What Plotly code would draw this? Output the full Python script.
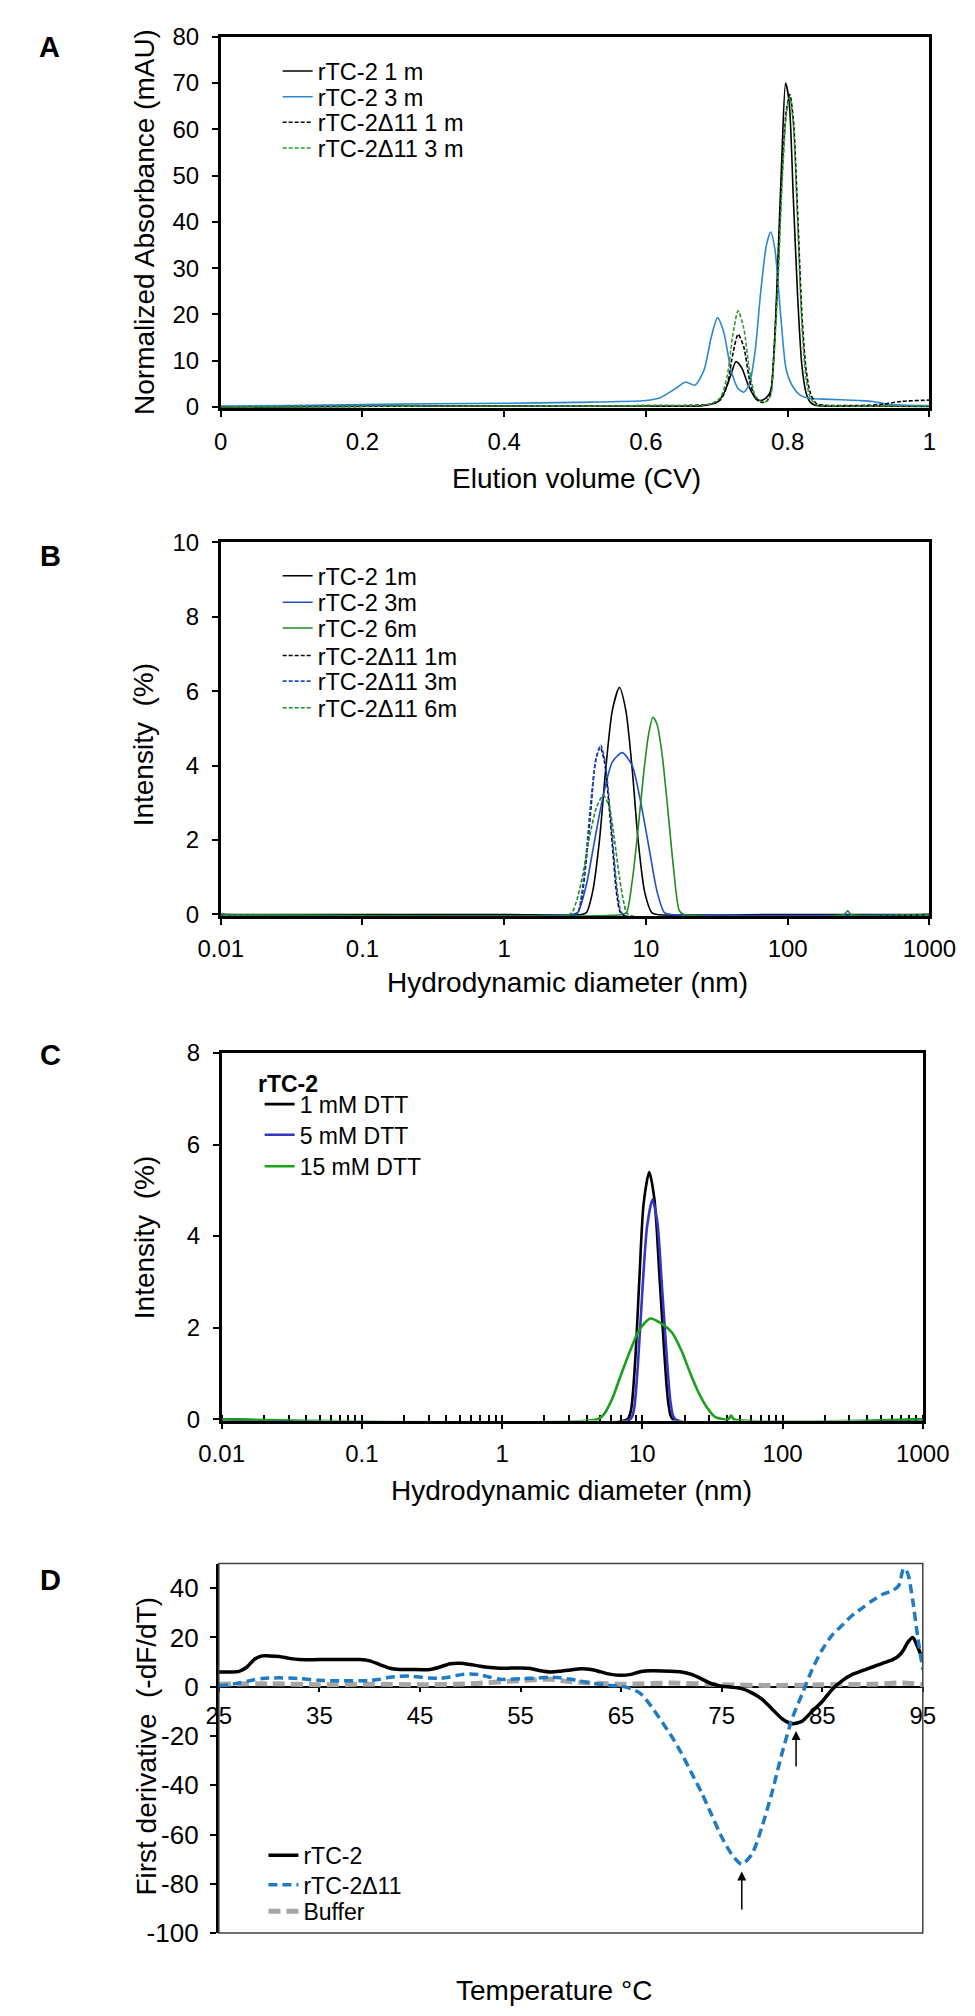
import plotly.graph_objects as go

W, H = 975, 2016
FONT = "Liberation Sans, Arial, Helvetica, sans-serif"

# ---------------- A: elution profiles (CV vs mAU) ----------------
a_x_wt1 = [0, 0.3, 0.6, 0.68, 0.70, 0.71, 0.72, 0.727, 0.735, 0.745, 0.755, 0.762, 0.770,
           0.776, 0.782, 0.787, 0.792, 0.797, 0.802, 0.808, 0.814, 0.820, 0.826, 0.832,
           0.84, 0.9, 1.0]
a_y_wt1 = [0, 0.2, 0.2, 0.3, 1.0, 3.0, 7.0, 9.8, 8.5, 4.5, 1.8, 1.4, 2.0,
           3.5, 16, 35, 55, 70, 66, 45, 24, 9, 3, 1, 0.3, 0.2, 0.1]

a_x_wt3 = [0, 0.1, 0.2, 0.3, 0.4, 0.5, 0.6, 0.62, 0.64, 0.656, 0.669, 0.682, 0.692, 0.701,
           0.71, 0.72, 0.73, 0.738, 0.746, 0.754, 0.762, 0.770, 0.776, 0.782, 0.790, 0.798,
           0.808, 0.818, 0.83, 0.85, 0.9, 0.92, 0.94, 1.0]
a_y_wt3 = [0.2, 0.3, 0.5, 0.7, 0.8, 1.0, 1.4, 2.0, 3.8, 5.4, 4.7, 8, 15, 19.3,
           16, 8, 4, 3.2, 5, 12, 25, 35, 37.8, 34, 20, 8,
           4.2, 2.5, 1.9, 1.7, 1.4, 1.2, 0.6, 0.3]

a_x_d1 = [0, 0.3, 0.6, 0.69, 0.705, 0.715, 0.722, 0.730, 0.738, 0.746, 0.754, 0.762, 0.770,
          0.776, 0.780, 0.786, 0.792, 0.798, 0.803, 0.808, 0.814, 0.820, 0.826, 0.832, 0.840,
          0.85, 0.9, 0.93, 0.96, 1.0]
a_y_d1 = [0, 0.2, 0.3, 0.6, 1.5, 5, 11, 15.7, 13, 6, 2, 1.0, 1.2,
          3, 10, 28, 50, 64, 67.5, 62, 42, 20, 8, 3, 0.8,
          0.4, 0.3, 0.5, 1.2, 1.5]

a_x_d3 = a_x_d1
a_y_d3 = [0, 0.2, 0.3, 0.6, 2, 7, 15, 20.8, 17, 8, 2.5, 1.2, 1.2,
          2.5, 9, 26, 48, 63, 67, 61, 40, 18, 6, 2, 0.5,
          0.3, 0.2, 0.2, 0.2, 0.2]

# ---------------- B: DLS, storage time ----------------
b_x_wt1 = [0.01, 1, 3.5, 3.8, 4.2, 4.7, 5.2, 5.8, 6.5, 7.2, 8.0, 8.8, 9.8, 11, 12, 100, 1000]
b_y_wt1 = [0, 0, 0, 0.05, 0.6, 2.0, 3.9, 5.5, 6.1, 5.5, 3.9, 2.0, 0.6, 0.05, 0, 0, 0]

b_x_wt3 = [0.01, 3.0, 3.3, 3.8, 4.3, 5.0, 5.8, 6.8, 8.0, 9.2, 10.5, 12, 13.5, 15, 1000]
b_y_wt3 = [0, 0, 0.05, 0.8, 1.9, 3.2, 4.1, 4.35, 4.0, 3.0, 1.8, 0.6, 0.05, 0, 0]

b_x_wt6 = [0.01, 6.8, 7.3, 8.0, 8.8, 9.7, 10.5, 11.2, 12.0, 13.0, 14.2, 15.6, 17.2, 18.5,
           250, 265, 280, 1000]
b_y_wt6 = [0, 0, 0.05, 0.9, 2.3, 3.9, 4.9, 5.3, 5.1, 4.3, 2.9, 1.3, 0.1, 0,
           0, 0.1, 0, 0]

b_x_d1 = [0.01, 3.2, 3.5, 3.8, 4.1, 4.4, 4.75, 5.1, 5.5, 5.9, 6.3, 6.8, 1000]
b_y_d1 = [0, 0, 0.4, 1.5, 2.9, 4.1, 4.5, 4.1, 2.9, 1.5, 0.4, 0, 0]

b_x_d3 = [0.01, 3.2, 3.5, 3.8, 4.1, 4.45, 4.8, 5.15, 5.55, 6.0, 6.4, 6.9, 1000]
b_y_d3 = [0, 0, 0.5, 1.7, 3.1, 4.2, 4.55, 4.1, 2.9, 1.4, 0.4, 0, 0]

b_x_d6 = [0.01, 2.9, 3.2, 3.6, 4.0, 4.5, 5.0, 5.5, 6.0, 6.5, 7.0, 7.5, 1000]
b_y_d6 = [0, 0, 0.3, 1.1, 2.1, 2.9, 3.2, 2.9, 2.0, 1.0, 0.3, 0, 0]

# ---------------- C: DLS, DTT ----------------
c_x_1 = [0.01, 7.8, 8.3, 8.9, 9.5, 10.2, 11.2, 12.2, 13.2, 14.3, 15.4, 16.5, 1000]
c_y_1 = [0, 0, 0.2, 1.3, 3.0, 4.7, 5.4, 4.8, 3.2, 1.5, 0.3, 0, 0]

c_x_5 = [0.01, 8.2, 8.7, 9.3, 10.0, 10.8, 11.8, 12.8, 13.8, 14.9, 16.0, 17.2, 1000]
c_y_5 = [0, 0, 0.2, 1.2, 2.8, 4.2, 4.8, 4.3, 2.9, 1.4, 0.3, 0, 0]

c_x_15 = [0.01, 4.8, 5.3, 6.1, 7.0, 8.2, 9.5, 11.4, 13.5, 16.2, 19, 21.8, 25, 29, 33, 38,
          41, 43, 45, 1000]
c_y_15 = [0, 0, 0.1, 0.45, 0.95, 1.5, 1.95, 2.2, 2.1, 1.9, 1.5, 1.03, 0.6, 0.25, 0.05, 0,
          0, 0.08, 0, 0]

# ---------------- D: thermal shift, first derivative ----------------
d_temp = [25, 26, 27, 27.8, 28.5, 29.3, 30, 31, 32, 33, 35, 37, 39, 40, 41, 42, 43, 44, 46,
          47, 48, 49, 50, 51, 52, 53, 55, 56, 57, 58, 59, 60, 61, 62, 63, 64, 65, 66, 67, 68,
          70, 71, 72, 73, 74, 75, 76, 77, 78, 79, 80, 81, 82, 83, 84, 85, 86, 87, 88, 89, 90,
          91, 92, 92.6, 93.1, 93.5, 94, 94.5, 95]
d_wt = [6, 6, 6.2, 8, 11, 12.5, 12.5, 12.3, 11.5, 11, 11, 11, 11, 10.5, 9, 7.5, 7, 7, 7,
        8, 9.3, 9.5, 9, 8.3, 7.8, 7.5, 7.6, 7.4, 6.5, 6, 6.3, 6.8, 7.3, 7, 6, 5, 4.6, 5, 6.2, 6.5,
        6.3, 6, 5, 3.2, 1.2, 0.2, -0.2, -0.8, -2.5, -5, -9, -13, -15, -14, -10, -6, -1, 2.5, 5, 6.5, 8,
        9.5, 11, 12.5, 15, 18, 20, 16, 11]
d_d11 = [0.4, 0.8, 1.5, 2.2, 2.8, 3.3, 3.5, 3.6, 3.5, 3.3, 2.6, 2.4, 2.4, 2.5, 3, 3.8, 4.2, 4.3, 3.5,
         3.4, 4, 4.8, 5.2, 4.8, 3.8, 3, 3.2, 3.4, 3.6, 3.9, 3.6, 3, 2.2, 1.5, 1.0, 0.5, 0.2, -0.8, -3, -8,
         -20, -27, -35, -43, -52, -61, -68, -72, -68, -57, -43, -27, -13, -3, 7, 15, 21, 25, 29, 32, 35,
         37.5, 39, 41, 48, 46, 35, 20, 7]
d_buf_temp = [25, 30, 35, 40, 45, 50, 55, 58, 60, 65, 70, 75, 80, 85, 90, 93, 95]
d_buf = [1, 1.2, 0.8, 1, 0.8, 1.2, 2.5, 3, 2, 1, 1.5, 0.8, 0.5, 0.8, 1, 1.5, 0.8]

d_yticks = [40, 20, 0, -20, -40, -60, -80, -100]
d_ytext = ["40", "20", "0", "-20", "-40", "-60", "-80", "-100"]

# Tm arrows: temperature, arrow tip, arrow tail
arrow_temp = [77, 82.4]
arrow_tip = [-75, -18]
arrow_tail = [-91, -33]

# ---------------- layout geometry (pixels) ----------------
# panel: (left, right, top, bottom)
BOX = {
    "A": (200, 947, 15, 392),
    "B": (200, 947, 528, 907),
    "C": (201, 940, 1046, 1419),
    "D": (198, 940, 1564, 1939),
}


def fx(p):
    return p / W


def fy(p):
    return 1 - p / H


def dom(k):
    l, r, t, b = BOX[k]
    return [fx(l), fx(r)], [fy(b), fy(t)]


fig = go.Figure()
legends = {}
leg_n = [0]


def add(x, y, name, color, width, dash, xa, ya, text_x, row_y, fsize=23.5):
    # one legend per entry so the row spacing can follow the original
    leg_n[0] += 1
    key = "legend" if leg_n[0] == 1 else f"legend{leg_n[0]}"
    fig.add_trace(go.Scatter(
        x=x, y=y, mode="lines", name=name, xaxis=xa, yaxis=ya, legend=key,
        line=dict(color=color, width=width, dash=dash, shape="spline", smoothing=0.7),
        hoverinfo="skip"))
    legends[key] = dict(x=fx(text_x - 40), y=fy(row_y), xanchor="left", yanchor="middle",
                        bgcolor="rgba(0,0,0,0)", borderwidth=0,
                        font=dict(family=FONT, size=fsize, color="black"))


BLUE_A = "#2A88D0"
GREEN_A = "#2E9A2E"
add(a_x_wt1, a_y_wt1, "rTC-2 1 m", "black", 1.6, "solid", "x", "y", 300, 50)
add(a_x_wt3, a_y_wt3, "rTC-2 3 m", BLUE_A, 1.6, "solid", "x", "y", 300, 76)
add(a_x_d1, a_y_d1, "rTC-2Δ11 1 m", "black", 1.6, "4px,2px", "x", "y", 300, 102)
add(a_x_d3, a_y_d3, "rTC-2Δ11 3 m", GREEN_A, 1.6, "4px,2px", "x", "y", 300, 128)

BLUE_B = "#2050C8"
GREEN_B = "#1E8C1E"
add(b_x_wt1, b_y_wt1, "rTC-2 1m", "black", 1.6, "solid", "x2", "y2", 300, 562)
add(b_x_wt3, b_y_wt3, "rTC-2 3m", BLUE_B, 1.6, "solid", "x2", "y2", 300, 589)
add(b_x_wt6, b_y_wt6, "rTC-2 6m", GREEN_B, 1.6, "solid", "x2", "y2", 300, 615)
add(b_x_d1, b_y_d1, "rTC-2Δ11 1m", "black", 1.6, "4px,2px", "x2", "y2", 300, 643)
add(b_x_d3, b_y_d3, "rTC-2Δ11 3m", BLUE_B, 1.6, "4px,2px", "x2", "y2", 300, 669)
add(b_x_d6, b_y_d6, "rTC-2Δ11 6m", GREEN_B, 1.6, "4px,2px", "x2", "y2", 300, 696)

add(c_x_1, c_y_1, "1 mM DTT", "black", 2.6, "solid", "x3", "y3", 281, 1098, 23)
add(c_x_5, c_y_5, "5 mM DTT", "#3535C8", 2.6, "solid", "x3", "y3", 281, 1129, 23)
add(c_x_15, c_y_15, "15 mM DTT", "#1AA01A", 2.6, "solid", "x3", "y3", 281, 1161, 23)

add(d_buf_temp, d_buf, "Buffer", "#A6A6A6", 5, "12px,6px", "x4", "y4", 285, 1917, 23)
add(d_temp, d_wt, "rTC-2", "black", 3.5, "solid", "x4", "y4", 285, 1860, 23)
add(d_temp, d_d11, "rTC-2Δ11", "#1F7CC4", 3.5, "9px,5px", "x4", "y4", 285, 1890, 23)

tickfont = dict(family=FONT, size=24, color="black")
common = dict(showgrid=False, zeroline=False, showline=True, linecolor="black",
              ticks="outside", ticklen=6, tickwidth=2, tickcolor="black",
              tickfont=tickfont, layer="below traces", fixedrange=True)

xd, yd = dom("A")
fig.update_layout(
    xaxis=dict(domain=xd, anchor="y", range=[0, 1], tickvals=[0, 0.2, 0.4, 0.6, 0.8, 1],
               mirror=True, linewidth=2.5, ticklabelstandoff=4, **common),
    yaxis=dict(domain=yd, anchor="x", range=[-0.3, 80], tickvals=list(range(0, 81, 10)),
               mirror=True, linewidth=2.5, ticklabelstandoff=8, **common),
)

log_ticks = [0.01, 0.1, 1, 10, 100, 1000]
log_text = ["0.01", "0.1", "1", "10", "100", "1000"]
xd, yd = dom("B")
fig.update_layout(
    xaxis2=dict(domain=xd, anchor="y2", type="log", range=[-2, 3], tickvals=log_ticks,
                ticktext=log_text, mirror=True, linewidth=2.5, ticklabelstandoff=3, **common),
    yaxis2=dict(domain=yd, anchor="x2", range=[-0.04, 10], tickvals=[0, 2, 4, 6, 8, 10],
                mirror=True, linewidth=2.5, ticklabelstandoff=8, **common),
)

xd, yd = dom("C")
fig.update_layout(
    xaxis3=dict(domain=xd, anchor="y3", type="log", range=[-2, 3], tickvals=log_ticks,
                ticktext=log_text, mirror=True, linewidth=2.5, ticklabelstandoff=4,
                minor=dict(ticks="inside", ticklen=6, tickwidth=1.5, tickcolor="black",
                           dtick="D1", showgrid=False),
                **common),
    yaxis3=dict(domain=yd, anchor="x3", range=[-0.03, 8], tickvals=[0, 2, 4, 6, 8],
                mirror=True, linewidth=2.5, ticklabelstandoff=8, **common),
)

xd, yd = dom("D")
d_range = [-100, 50]
zero_pos = yd[0] + (0 - d_range[0]) / (d_range[1] - d_range[0]) * (yd[1] - yd[0])
d_x = {k: v for k, v in common.items() if k != "ticklen"}
d_y = dict(common)
d_y.update(tickfont=dict(family=FONT, size=26, color="black"))
fig.update_layout(
    xaxis4=dict(domain=xd, anchor="free", position=zero_pos, range=[25, 95],
                tickvals=list(range(25, 96, 10)), linewidth=1.5, ticklen=5,
                ticklabelstandoff=3, **d_x),
    yaxis4=dict(domain=yd, anchor="x4", range=d_range, tickvals=d_yticks,
                ticktext=d_ytext, linewidth=3, ticklabelstandoff=6, **d_y),
)
fig.add_shape(type="rect", xref="x4 domain", yref="y4 domain", x0=0, x1=1, y0=0, y1=1,
              line=dict(color="#404040", width=1.5), layer="above")

for t, tip, tail in zip(arrow_temp, arrow_tip, arrow_tail):
    fig.add_annotation(x=t, y=tip, ax=t, ay=tail, xref="x4", yref="y4", axref="x4",
                       ayref="y4", text="", showarrow=True, arrowhead=2, arrowsize=1.2,
                       arrowwidth=1.5, arrowcolor="black")

# axis titles and panel letters
titles = [
    ("Elution volume (CV)", 575, 463, 0),
    ("Normalized Absorbance (mAU)", 119, 203, -90),
    ("Hydrodynamic diameter (nm)", 565, 975, 0),
    ("Intensity  (%)", 119, 733, -90),
    ("Hydrodynamic diameter (nm)", 570, 1490, 0),
    ("Intensity  (%)", 119, 1233, -90),
    ("First derivative  (-dF/dT)", 122, 1749, -90),
    ("Temperature °C", 551, 1997, 0),
]
for txt, px, py, ang in titles:
    fig.add_annotation(text=txt, x=fx(px), y=fy(py), xref="paper", yref="paper",
                       showarrow=False, textangle=ang, xanchor="center", yanchor="middle",
                       font=dict(family=FONT, size=28, color="black"))

for letter, px, py in [("A", 20, 25), ("B", 21, 542), ("C", 21, 1048), ("D", 21, 1581)]:
    fig.add_annotation(text=f"<b>{letter}</b>", x=fx(px), y=fy(py), xref="paper",
                       yref="paper", showarrow=False, xanchor="center", yanchor="middle",
                       font=dict(family=FONT, size=29, color="black"))

fig.add_annotation(text="<b>rTC-2</b>", x=fx(237), y=fy(1077), xref="paper", yref="paper",
                   showarrow=False, xanchor="left", yanchor="middle",
                   font=dict(family=FONT, size=23, color="black"))

fig.update_layout(
    width=W, height=H, margin=dict(l=0, r=0, t=0, b=0),
    paper_bgcolor="white", plot_bgcolor="white", showlegend=True,
    font=dict(family=FONT, color="black"),
    **legends,
)

fig.write_html("out.html")
